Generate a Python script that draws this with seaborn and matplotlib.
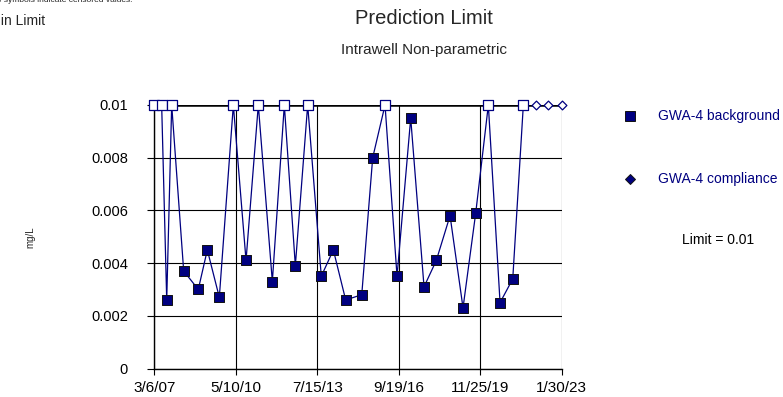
import matplotlib
matplotlib.use("Agg")
import matplotlib.pyplot as plt
import seaborn as sns
import pandas as pd
from matplotlib.lines import Line2D

# ---------------- data ----------------
bg_dates = ["2007-03-06", "2007-06-19", "2007-08-30", "2007-11-09", "2008-04-28",
            "2008-11-22", "2009-03-31", "2009-09-18", "2010-04-06", "2010-10-04",
            "2011-03-28", "2011-10-14", "2012-04-02", "2012-09-06", "2013-03-01",
            "2013-09-11", "2014-03-02", "2014-08-25", "2015-04-11", "2015-09-14",
            "2016-03-08", "2016-08-26", "2017-03-09", "2017-09-15", "2018-03-09",
            "2018-09-21", "2019-03-25", "2019-09-22", "2020-03-20", "2020-09-03",
            "2021-03-03", "2021-08-01"]
bg_values = [0.01, 0.01, 0.0026, 0.01, 0.0037, 0.0030, 0.0045, 0.0027, 0.01, 0.0041,
             0.01, 0.0033, 0.01, 0.0039, 0.01, 0.0035, 0.0045, 0.0026, 0.0028, 0.0080,
             0.01, 0.0035, 0.0095, 0.0031, 0.0041, 0.0058, 0.0023, 0.0059, 0.01, 0.0025,
             0.0034, 0.01]
bg_censored = [1, 1, 0, 1, 0, 0, 0, 0, 1, 0,
               1, 0, 1, 0, 1, 0, 0, 0, 0, 0,
               1, 0, 0, 0, 0, 0, 0, 0, 1, 0,
               0, 1]

comp_dates = ["2022-01-29", "2022-07-23", "2023-01-30"]
comp_values = [0.01, 0.01, 0.01]

limit_value = 0.01

x_tick_dates = ["2007-03-06", "2010-05-10", "2013-07-15", "2016-09-19",
                "2019-11-25", "2023-01-30"]
x_tick_labels = ["3/6/07", "5/10/10", "7/15/13", "9/19/16", "11/25/19", "1/30/23"]
y_ticks = [0, 0.002, 0.004, 0.006, 0.008, 0.01]
y_tick_labels = ["0", "0.002", "0.004", "0.006", "0.008", "0.01"]

title = "Prediction Limit"
subtitle = "Intrawell Non-parametric"
note_text = "Hollow symbols indicate censored values."
corner_text = "Within Limit"
y_label = "mg/L"
legend_bg = "GWA-4 background"
legend_comp = "GWA-4 compliance"
limit_text = "Limit = 0.01"

# ---------------- style ----------------
NAVY = "#000080"
sns.set_style("white")
plt.rcParams["font.family"] = ["Liberation Sans", "DejaVu Sans"]

W, H = 783, 397
def fx(px):
    return px / W
def fy(py):
    return 1 - py / H

fig = plt.figure(figsize=(W / 100, H / 100), dpi=100)
ax_l, ax_r, ax_t, ax_b = 154.3, 561.7, 105.0, 368.5
ax = fig.add_axes([fx(ax_l), fy(ax_b), (ax_r - ax_l) / W, (ax_b - ax_t) / H])

bg = pd.DataFrame({"date": pd.to_datetime(bg_dates), "value": bg_values,
                   "censored": bg_censored})
comp = pd.DataFrame({"date": pd.to_datetime(comp_dates), "value": comp_values})

# grid & limit line
ax.set_axisbelow(True)
ax.grid(True, color="black", lw=0.8, zorder=0)
ax.axhline(limit_value, color="black", lw=1.8, zorder=2)

# connecting line
sns.lineplot(data=bg, x="date", y="value", sort=False, estimator=None,
             color=NAVY, lw=0.9, ax=ax, zorder=3, legend=False)

filled = bg[bg["censored"] == 0]
hollow = bg[bg["censored"] == 1]

sns.scatterplot(data=filled, x="date", y="value", marker="s", s=50,
                ax=ax, zorder=5, clip_on=False, legend=False)
c = ax.collections[-1]
c.set_facecolor(NAVY); c.set_edgecolor("#111111"); c.set_linewidth(0.7)

sns.scatterplot(data=hollow, x="date", y="value", marker="s", s=50,
                ax=ax, zorder=5, clip_on=False, legend=False)
c = ax.collections[-1]
c.set_facecolor("white"); c.set_edgecolor(NAVY); c.set_linewidth(0.9)

sns.scatterplot(data=comp, x="date", y="value", marker="D", s=20,
                ax=ax, zorder=5, clip_on=False, legend=False)
c = ax.collections[-1]
c.set_facecolor("white"); c.set_edgecolor(NAVY); c.set_linewidth(0.9)

# axes
ax.set_xlim(pd.Timestamp(x_tick_dates[0]), pd.Timestamp(x_tick_dates[-1]))
ax.set_ylim(0, 0.01)
ax.set_xticks(pd.to_datetime(x_tick_dates))
ax.set_xticklabels(x_tick_labels)
ax.set_yticks(y_ticks)
ax.set_yticklabels(y_tick_labels)
ax.set_xlabel("")
ax.set_ylabel("")
ax.tick_params(axis="x", bottom=True, direction="out", length=4, width=0.8,
               color="black", labelsize=11, pad=5, labelcolor="black")
ax.tick_params(axis="y", left=True, direction="out", length=5, width=0.8,
               color="black", labelsize=10.5, pad=14, labelcolor="black")
for s in ["top", "right"]:
    ax.spines[s].set_visible(False)
for s in ["left", "bottom"]:
    ax.spines[s].set_color("black")
    ax.spines[s].set_linewidth(1.0)

# texts
fig.text(fx(424), fy(18), title, ha="center", va="center", fontsize=14.5)
fig.text(fx(424), fy(50), subtitle, ha="center", va="center", fontsize=11)
fig.text(fx(132), fy(1), note_text, ha="right", va="center", fontsize=6)
fig.text(fx(45), fy(21), corner_text, ha="right", va="center", fontsize=10)
fig.text(fx(30), fy(237), y_label, ha="center", va="center", rotation=90,
         fontsize=7)

# legend (manual)
fig.add_artist(Line2D([fx(630)], [fy(116)], transform=fig.transFigure,
                      marker="s", markersize=7.2, markerfacecolor=NAVY,
                      markeredgecolor="#111111", markeredgewidth=0.7, ls="none"))
fig.text(fx(658), fy(116), legend_bg, ha="left", va="center", fontsize=10,
         color=NAVY)
fig.add_artist(Line2D([fx(630)], [fy(179)], transform=fig.transFigure,
                      marker="D", markersize=5, markerfacecolor=NAVY,
                      markeredgecolor="#111111", markeredgewidth=0.7, ls="none"))
fig.text(fx(658), fy(179), legend_comp, ha="left", va="center", fontsize=10,
         color=NAVY)
fig.text(fx(718), fy(240), limit_text, ha="center", va="center", fontsize=10,
         color="black")

fig.savefig("out.png", dpi=100, facecolor="white")
